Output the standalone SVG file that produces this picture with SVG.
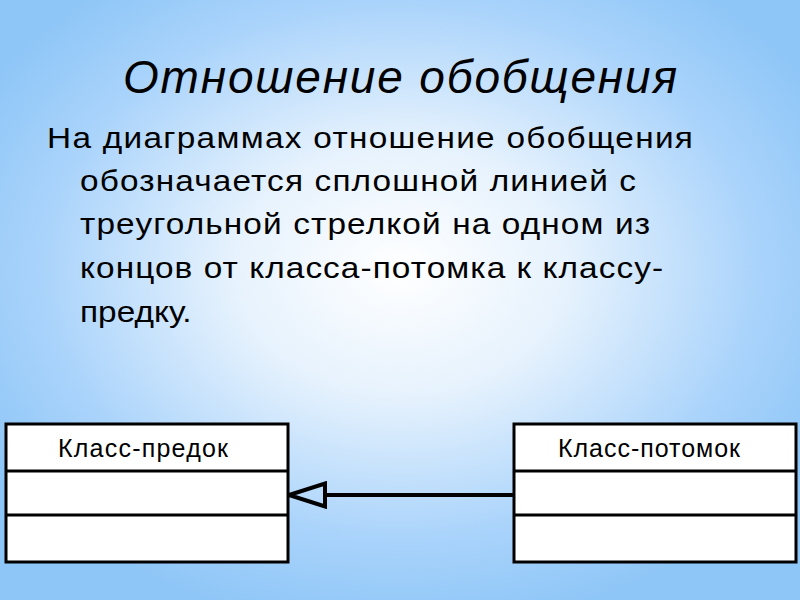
<svg xmlns="http://www.w3.org/2000/svg" width="800" height="600" viewBox="0 0 800 600">
<defs>
<radialGradient id="bg" cx="400" cy="270" r="480" gradientUnits="userSpaceOnUse" gradientTransform="translate(400 270) scale(1 0.75) translate(-400 -270)">
<stop offset="0" stop-color="#ffffff"/>
<stop offset="0.35" stop-color="#e6f2fd"/>
<stop offset="0.75" stop-color="#a9d3fb"/>
<stop offset="1" stop-color="#8ec6f7"/>
</radialGradient>
<marker id="tri" viewBox="0 0 40 28" refX="2" refY="14" markerWidth="40" markerHeight="28" markerUnits="userSpaceOnUse" orient="auto">
<path d="M2,2.5 L2,25.5 L38,14 Z" fill="none" stroke="#000" stroke-width="4" stroke-linejoin="miter"/>
</marker>
<style>
.box{fill:#fff;stroke:#000;stroke-width:3}
.div{stroke:#000;stroke-width:3}
.lbl{font-family:"Liberation Sans",Arial,sans-serif;font-size:25px;fill:#000}
.body{font-family:"Liberation Sans",Arial,sans-serif;font-size:29px;fill:#000}
.title{font-family:"Liberation Sans Narrow","Liberation Sans",Arial,sans-serif;font-size:46px;font-style:italic;fill:#000}
</style>
</defs>
<rect width="800" height="600" fill="url(#bg)"/>
<text class="title" x="123" y="93" textLength="554" lengthAdjust="spacing">Отношение обобщения</text>
<g id="body">
<text class="body" transform="translate(47 148) scale(1.15 1)" x="0" y="0" textLength="561.7" lengthAdjust="spacing">На диаграммах отношение обобщения</text>
<text class="body" transform="translate(80 191) scale(1.15 1)" x="0" y="0" textLength="483.5" lengthAdjust="spacing">обозначается сплошной линией с</text>
<text class="body" transform="translate(80 234) scale(1.15 1)" x="0" y="0" textLength="495.7" lengthAdjust="spacing">треугольной стрелкой на одном из</text>
<text class="body" transform="translate(80 278) scale(1.15 1)" x="0" y="0" textLength="507" lengthAdjust="spacing">концов от класса-потомка к классу-</text>
<text class="body" transform="translate(80 322) scale(1.15 1)" x="0" y="0" textLength="97" lengthAdjust="spacing">предку.</text>
</g>
<g id="parent">
<rect class="box" x="6" y="424" width="282" height="138"/>
<line class="div" x1="6" y1="471" x2="288" y2="471"/>
<line class="div" x1="6" y1="515" x2="288" y2="515"/>
<text class="lbl" x="58" y="457" textLength="170" lengthAdjust="spacing">Класс-предок</text>
</g>
<g id="child">
<rect class="box" x="514" y="424" width="282" height="138"/>
<line class="div" x1="514" y1="471" x2="796" y2="471"/>
<line class="div" x1="514" y1="515" x2="796" y2="515"/>
<text class="lbl" x="558" y="457" textLength="182" lengthAdjust="spacing">Класс-потомок</text>
</g>
<g id="connectors">
<line x1="514" y1="495" x2="325" y2="495" stroke="#000" stroke-width="4" marker-end="url(#tri)"/>
</g>
</svg>
